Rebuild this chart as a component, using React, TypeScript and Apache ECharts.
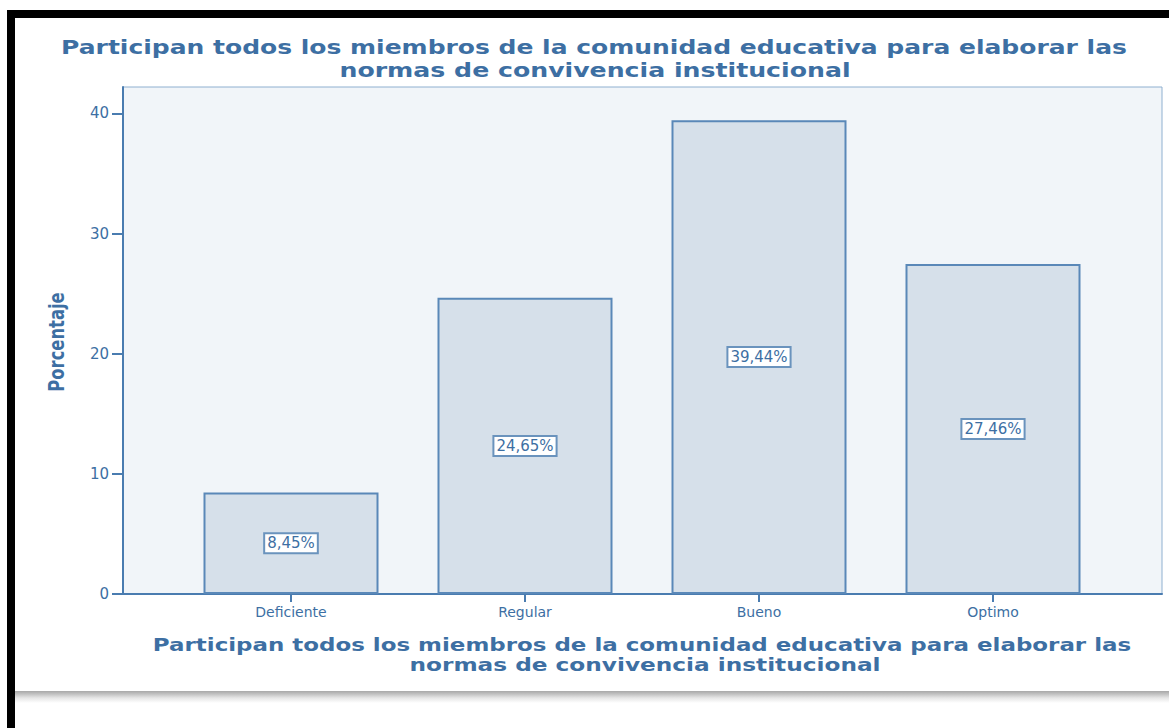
import React, { useEffect, useRef } from "react";
import * as echarts from "echarts";

const categories = ["Deficiente", "Regular", "Bueno", "Optimo"];
const percentages = [8.45, 24.65, 39.44, 27.46];
const yTicks = [0, 10, 20, 30, 40];
const titleLines = [
  "Participan todos los miembros de la comunidad educativa para elaborar las",
  "normas de convivencia institucional",
];
const yAxisTitle = "Porcentaje";

const BLUE = "#3d6fa3";
const AXIS = "#4a7cb0";

export default function App() {
  const ref = useRef<HTMLDivElement>(null);
  useEffect(() => {
    if (!ref.current) return;
    const chart = echarts.init(ref.current, undefined, { renderer: "svg" });
    const yMax = 42.2;
    const boldFont = (size: number) => `bold ${size}px "DejaVu Sans"`;
    chart.setOption({
      animation: false,
      backgroundColor: "transparent",
      graphic: [
        {
          type: "text",
          x: 594,
          y: 47,
          scaleX: 1.25,
          style: {
            text: titleLines[0],
            font: boldFont(20),
            fill: BLUE,
            textAlign: "center",
            textVerticalAlign: "middle",
          },
        },
        {
          type: "text",
          x: 595,
          y: 70,
          scaleX: 1.26,
          style: {
            text: titleLines[1],
            font: boldFont(20),
            fill: BLUE,
            textAlign: "center",
            textVerticalAlign: "middle",
          },
        },
        {
          type: "text",
          x: 642,
          y: 645,
          scaleX: 1.275,
          style: {
            text: titleLines[0],
            font: boldFont(18),
            fill: BLUE,
            textAlign: "center",
            textVerticalAlign: "middle",
          },
        },
        {
          type: "text",
          x: 645,
          y: 665,
          scaleX: 1.29,
          style: {
            text: titleLines[1],
            font: boldFont(18),
            fill: BLUE,
            textAlign: "center",
            textVerticalAlign: "middle",
          },
        },
        {
          type: "text",
          x: 57,
          y: 342,
          rotation: Math.PI / 2,
          scaleX: 0.78,
          style: {
            text: yAxisTitle,
            font: boldFont(21),
            fill: BLUE,
            textAlign: "center",
            textVerticalAlign: "middle",
          },
        },
      ],
      grid: [
        {
          left: 123,
          right: 7,
          top: 87,
          bottom: 134,
          show: true,
          backgroundColor: "#f1f5f9",
          borderColor: "#8fb0d0",
          borderWidth: 1,
        },
        {
          left: 174,
          right: 59,
          top: 87,
          bottom: 134,
        },
      ],
      xAxis: [
        {
          gridIndex: 0,
          type: "value",
          min: 0,
          max: 1,
          axisLine: { show: true, lineStyle: { color: AXIS, width: 2 } },
          axisTick: { show: false },
          axisLabel: { show: false },
          splitLine: { show: false },
        },
        {
          gridIndex: 1,
          type: "category",
          data: categories,
          axisLine: { show: false },
          axisTick: {
            show: true,
            alignWithLabel: true,
            length: 8,
            lineStyle: { color: AXIS, width: 2 },
          },
          axisLabel: {
            color: BLUE,
            fontFamily: "DejaVu Sans",
            fontSize: 14,
            margin: 11,
          },
        },
      ],
      yAxis: [
        {
          gridIndex: 0,
          type: "value",
          min: 0,
          max: yMax,
          interval: 10,
          axisLine: { show: true, lineStyle: { color: AXIS, width: 2 } },
          axisTick: {
            show: true,
            length: 11,
            customValues: yTicks,
            lineStyle: { color: AXIS, width: 2 },
          },
          axisLabel: {
            color: BLUE,
            fontFamily: "DejaVu Sans",
            fontSize: 15,
            margin: 14,
            customValues: yTicks,
          },
          splitLine: { show: false },
        },
        {
          gridIndex: 1,
          type: "value",
          min: 0,
          max: yMax,
          show: false,
        },
      ],
      series: [
        {
          type: "bar",
          xAxisIndex: 1,
          yAxisIndex: 1,
          data: percentages,
          barWidth: 175,
          itemStyle: {
            color: "#d6e0ea",
            borderColor: "#5a88b8",
            borderWidth: 2,
          },
          label: {
            show: true,
            position: "inside",
            formatter: (p: any) => p.value.toFixed(2).replace(".", ",") + "%",
            color: BLUE,
            fontFamily: "DejaVu Sans",
            fontSize: 15,
            backgroundColor: "#ffffff",
            borderColor: "#6a93bd",
            borderWidth: 2,
            padding: [2, 2, 1, 2],
          },
        },
      ],
    });
    return () => chart.dispose();
  }, []);

  return (
    <div
      style={{
        position: "fixed",
        left: 0,
        top: 0,
        width: 1169,
        height: 728,
        background: "#ffffff",
        overflow: "hidden",
      }}
    >
      <div
        style={{
          position: "absolute",
          left: 7,
          top: 10,
          width: 1200,
          height: 800,
          borderLeft: "8px solid #000",
          borderTop: "8px solid #000",
          background: "#ffffff",
        }}
      />
      <div
        style={{
          position: "absolute",
          left: 15,
          top: 691,
          width: 1200,
          height: 12,
          background: "linear-gradient(#a8a8a8 0px, #b8b8b8 2px, #e6e6e6 7px, #ffffff 12px)",
        }}
      />
      <div ref={ref} style={{ position: "absolute", left: 0, top: 0, width: 1169, height: 728 }} />
    </div>
  );
}
